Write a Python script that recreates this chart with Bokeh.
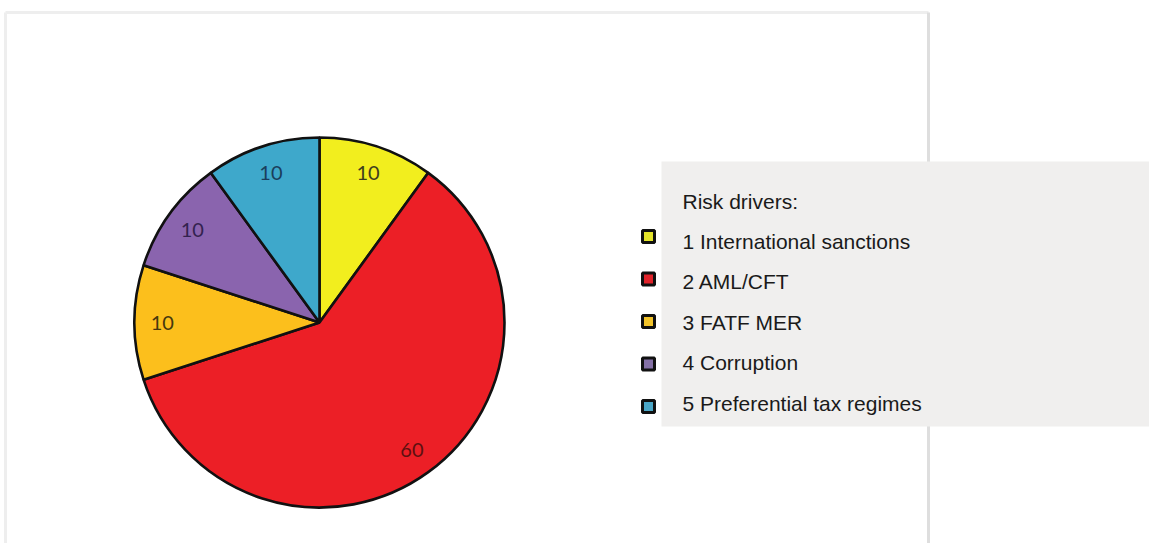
import math
from bokeh.plotting import figure
from bokeh.models import Range1d
from bokeh.core.properties import value
from bokeh.embed import file_html
from bokeh.resources import INLINE

# ---- data ----
categories = ["1 International sanctions", "2 AML/CFT", "3 FATF MER",
              "4 Corruption", "5 Preferential tax regimes"]
values = [10, 60, 10, 10, 10]
slice_colors = ["#F2EE1E", "#EC1F26", "#FCBF1C", "#8A64AE", "#3EA8CB"]
label_colors = ["#3E3E1E", "#5E1010", "#46380E", "#33224F", "#1A3E5C"]
legend_colors = ["#E4E42A", "#E0222A", "#F2C32A", "#8470A6", "#4AA6C6"]
legend_title = "Risk drivers:"

W, H = 1149, 543
OX, OY = 0, 0


def X(sx):
    return sx - OX


def Y(sy):
    return -(sy - OY)


p = figure(width=W, height=H, output_backend="svg", toolbar_location=None,
           x_range=Range1d(0, W), y_range=Range1d(-H, 0), min_border=0)
p.axis.visible = False
p.grid.visible = False
p.outline_line_color = None
p.background_fill_color = "white"
p.border_fill_color = "white"

# faint frame of the scanned image
p.line(x=[X(5), X(5)], y=[Y(600), Y(12)], line_color="#EEEEEE", line_width=3)
p.line(x=[X(5), X(928)], y=[Y(12), Y(12)], line_color="#EEEEEE", line_width=3)
p.line(x=[X(928), X(928)], y=[Y(12), Y(600)], line_color="#DEDEDE", line_width=3)

# ---- pie ----
cx, cy, R = X(319), Y(322), 185
total = float(sum(values))
cum = 0.0
starts, ends, mids = [], [], []
for v in values:
    a_before = math.pi / 2 - 2 * math.pi * cum / total
    cum += v
    a_after = math.pi / 2 - 2 * math.pi * cum / total
    starts.append(a_after)
    ends.append(a_before)
    mids.append((a_before + a_after) / 2)

p.wedge(x=cx, y=cy, radius=R, start_angle=starts, end_angle=ends,
        direction="anticlock", fill_color=slice_colors, line_color="#111111",
        line_width=2.6)

lr = 0.85 * R
p.text(x=[cx + lr * math.cos(m) for m in mids],
       y=[cy + lr * math.sin(m) for m in mids],
       text=[str(v) for v in values], text_color=label_colors,
       text_font=value("Lato"), text_font_size="20px",
       text_align="center", text_baseline="middle")

# ---- legend box ----
p.quad(left=X(661), right=X(1200), top=Y(161), bottom=Y(426),
       fill_color="#F0EFEE", line_color=None)

p.text(x=[X(682)], y=[Y(201)], text=[legend_title], text_color="#1A1A1A",
       text_font=value("Liberation Sans"), text_font_size="21px",
       text_align="left", text_baseline="middle")

item_y = [Y(241 + 40.4 * i) for i in range(len(categories))]
mark_y = [Y(236 + 42.5 * i) for i in range(len(categories))]
p.text(x=[X(682)] * len(categories), y=item_y, text=categories,
       text_color="#1A1A1A", text_font=value("Liberation Sans"),
       text_font_size="21px", text_align="left", text_baseline="middle")
p.scatter(x=[X(648)] * len(categories), y=mark_y, marker="square", size=12,
          fill_color=legend_colors, line_color="#111111", line_width=3)

open("out.html", "w").write(file_html(p, INLINE))
